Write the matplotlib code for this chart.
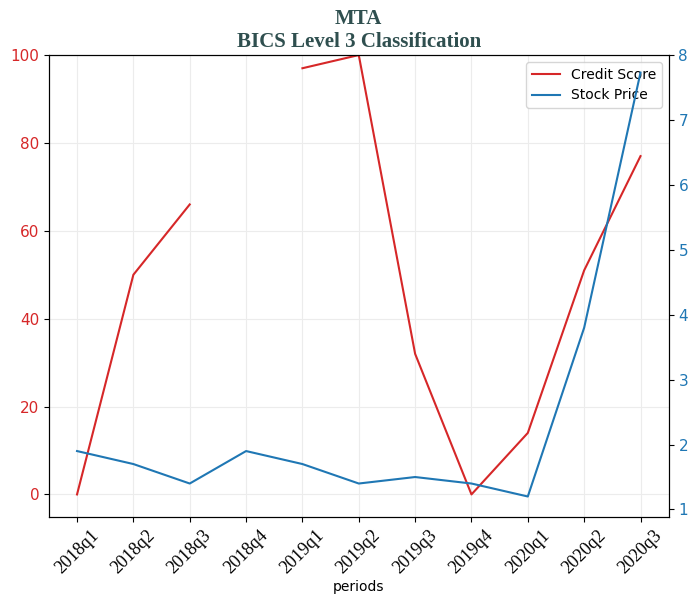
import numpy as np
import matplotlib
matplotlib.use("Agg")
import matplotlib.pyplot as plt

periods = ["2018q1", "2018q2", "2018q3", "2018q4", "2019q1", "2019q2",
           "2019q3", "2019q4", "2020q1", "2020q2", "2020q3"]
credit_score = [0, 50, 66, np.nan, 97, 100, 32, 0, 14, 51, 77]
stock_price = [1.9, 1.7, 1.4, 1.9, 1.7, 1.4, 1.5, 1.4, 1.2, 3.8, 7.73]

fig, ax1 = plt.subplots(figsize=(6.98, 6.05), dpi=100)
fig.subplots_adjust(left=0.07, right=0.958, top=0.909, bottom=0.145)

x = np.arange(len(periods))
l1, = ax1.plot(x, credit_score, color="tab:red", label="Credit Score")
ax1.set_ylim(-5.2, 100)
ax1.grid(True, color="#ececec", linewidth=0.8)
ax1.tick_params(axis="y", labelcolor="tab:red", labelsize=11)
ax1.set_xticks(x)
ax1.set_xticklabels(periods)
ax1.tick_params(axis="x", labelrotation=45, labelsize=13,
                labelfontfamily="Liberation Serif")
ax1.set_xlabel("periods", labelpad=2)

ax2 = ax1.twinx()
l2, = ax2.plot(x, stock_price, color="tab:blue", label="Stock Price")
ax2.set_ylim(0.88, 8.0)
ax2.tick_params(axis="y", labelcolor="tab:blue", labelsize=11)

ax1.legend(handles=[l1, l2], loc="upper right")
ax1.set_title("MTA\nBICS Level 3 Classification", fontfamily="Liberation Serif",
              fontweight="bold", fontsize=15, color="darkslategray")

fig.savefig("out.png", dpi=100)
